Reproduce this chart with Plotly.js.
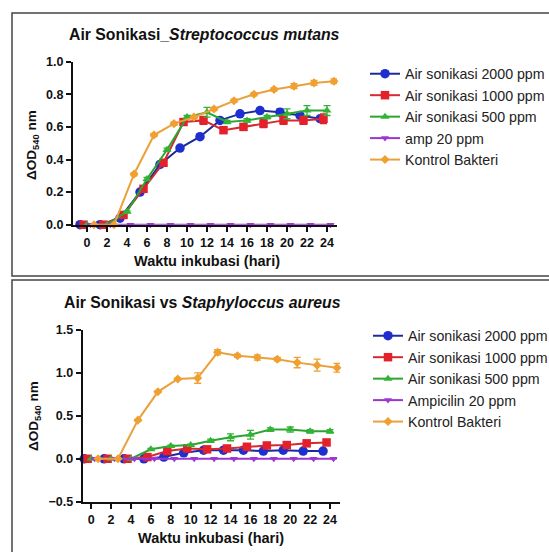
<!DOCTYPE html>
<html>
<head>
<meta charset="utf-8">
<script src="https://cdn.plot.ly/plotly-3.0.1.min.js"></script>
<style>
  html, body { margin: 0; padding: 0; background: #fff; }
  #chart { width: 549px; height: 552px; }
</style>
</head>
<body>
<div id="chart"></div>
<script>
// ---------- DATA ----------
const days = [0, 2, 4, 6, 8, 10, 12, 14, 16, 18, 20, 22, 24];

// Top panel: Streptococcus mutans
const smNames = ["Air sonikasi 2000 ppm", "Air sonikasi 1000 ppm", "Air sonikasi 500 ppm", "amp 20 ppm", "Kontrol Bakteri"];
const sm2000 = [0, 0, 0.04, 0.20, 0.37, 0.47, 0.54, 0.64, 0.68, 0.70, 0.69, 0.67, 0.65];
const sm1000 = [0, 0, 0.06, 0.22, 0.38, 0.63, 0.64, 0.58, 0.60, 0.62, 0.64, 0.64, 0.65];
const sm500  = [0, 0, 0.08, 0.28, 0.46, 0.66, 0.69, 0.63, 0.64, 0.66, 0.68, 0.70, 0.70];
const smAmp  = [0, 0, 0, 0, 0, 0, 0, 0, 0, 0, 0, 0, 0];
const smKon  = [0, 0, 0.31, 0.55, 0.62, 0.66, 0.71, 0.76, 0.80, 0.83, 0.85, 0.87, 0.88];
const sm2000Err = [0, 0, 0.005, 0.01, 0.01, 0.01, 0.01, 0.01, 0.01, 0.01, 0.02, 0.01, 0.01];
const sm1000Err = [0, 0, 0.005, 0.01, 0.01, 0.01, 0.025, 0.02, 0.02, 0.025, 0.025, 0.025, 0.03];
const sm500Err  = [0, 0, 0.005, 0.01, 0.01, 0.01, 0.03, 0.01, 0.01, 0.01, 0.03, 0.03, 0.03];
const smAmpErr  = [0, 0, 0, 0, 0, 0, 0, 0, 0, 0, 0, 0, 0];
const smKonErr  = [0, 0, 0.01, 0.01, 0.01, 0.01, 0.01, 0.01, 0.01, 0.01, 0.015, 0.015, 0.015];

// Bottom panel: Staphylococcus aureus
const saNames = ["Air sonikasi 2000 ppm", "Air sonikasi 1000 ppm", "Air sonikasi 500 ppm", "Ampicilin 20 ppm", "Kontrol Bakteri"];
const sa2000 = [0, 0, 0, 0, 0.02, 0.07, 0.10, 0.10, 0.10, 0.09, 0.10, 0.09, 0.09];
const sa1000 = [0, 0, 0, 0.02, 0.09, 0.12, 0.11, 0.12, 0.14, 0.155, 0.16, 0.18, 0.19];
const sa500  = [0, 0, 0, 0.11, 0.15, 0.16, 0.21, 0.25, 0.28, 0.34, 0.34, 0.32, 0.32];
const saAmp  = [0, 0, 0, 0, 0, 0, 0, 0, 0, 0, 0, 0, 0];
const saKon  = [0, 0, 0.45, 0.78, 0.93, 0.94, 1.24, 1.20, 1.18, 1.16, 1.12, 1.09, 1.06];
const sa2000Err = [0, 0, 0, 0, 0.01, 0.01, 0.01, 0.01, 0.01, 0.01, 0.01, 0.01, 0.01];
const sa1000Err = [0, 0, 0, 0.01, 0.01, 0.01, 0.01, 0.01, 0.01, 0.01, 0.01, 0.01, 0.03];
const sa500Err  = [0, 0, 0, 0.01, 0.01, 0.01, 0.02, 0.04, 0.05, 0.02, 0.03, 0.02, 0.02];
const saAmpErr  = [0, 0, 0, 0, 0, 0, 0, 0, 0, 0, 0, 0, 0];
const saKonErr  = [0, 0, 0.01, 0.01, 0.01, 0.06, 0.03, 0.02, 0.03, 0.02, 0.06, 0.07, 0.05];

const xTicks = [0, 2, 4, 6, 8, 10, 12, 14, 16, 18, 20, 22, 24];

// ---------- STYLE ----------
const styles = [
  { color: "#1f2fcf", line: "#1d2a9a", symbol: "circle", size: 9.5, nudge: -0.7 },
  { color: "#e4212b", line: "#d42a30", symbol: "square", size: 8.5, nudge: -0.35 },
  { color: "#33b336", line: "#2aa530", symbol: "triangle-up", size: 8, nudge: 0 },
  { color: "#a035d6", line: "#9a35d0", symbol: "triangle-down", size: 7, nudge: 0.35 },
  { color: "#f0a030", line: "#eba03a", symbol: "diamond", size: 7, nudge: 0.7 }
];

function makeTraces(names, ys, errs, xa, ya, legendId) {
  return names.map((n, i) => ({
    type: "scatter",
    mode: "lines+markers",
    name: n,
    x: days.map(d => d + styles[i].nudge),
    y: ys[i],
    xaxis: xa, yaxis: ya,
    legend: legendId,
    cliponaxis: false,
    line: { color: styles[i].line, width: 2 },
    marker: { color: styles[i].color, symbol: styles[i].symbol, size: styles[i].size, line: { width: 0 } },
    error_y: { type: "data", array: errs[i], visible: true, color: styles[i].color, thickness: 1.3, width: 3.5 }
  }));
}

const traces = [].concat(
  makeTraces(smNames, [sm2000, sm1000, sm500, smAmp, smKon], [sm2000Err, sm1000Err, sm500Err, smAmpErr, smKonErr], "x", "y", "legend"),
  makeTraces(saNames, [sa2000, sa1000, sa500, saAmp, saKon], [sa2000Err, sa1000Err, sa500Err, saAmpErr, saKonErr], "x2", "y2", "legend2")
);

const W = 549, H = 552;
const px = v => v / W;
const py = v => 1 - v / H;
const FONT = "Liberation Sans, Arial, sans-serif";

const axisCommon = {
  showline: true, linecolor: "#111", linewidth: 2,
  ticks: "outside", ticklen: 5, tickwidth: 2, tickcolor: "#111",
  showgrid: false, zeroline: false,
  tickfont: { family: FONT, size: 12.5, color: "#111", weight: "bold" },
  fixedrange: true
};

const layout = {
  width: W, height: H,
  margin: { l: 0, r: 0, t: 0, b: 0, autoexpand: false },
  paper_bgcolor: "#fff", plot_bgcolor: "rgba(0,0,0,0)",
  font: { family: FONT, color: "#111" },
  showlegend: true,
  xaxis: Object.assign({}, axisCommon, {
    domain: [px(73), px(337)], range: [-1.4, 25], tickvals: xTicks, anchor: "y"
  }),
  yaxis: Object.assign({}, axisCommon, {
    domain: [py(224.7), py(61.7)], range: [0, 1.0], dtick: 0.2, tick0: 0, tickformat: ".1f", anchor: "x"
  }),
  xaxis2: Object.assign({}, axisCommon, {
    domain: [px(82.7), px(340)], range: [-0.85, 25], tickvals: xTicks, anchor: "y2"
  }),
  yaxis2: Object.assign({}, axisCommon, {
    domain: [py(501.7), py(330)], range: [-0.5, 1.5], dtick: 0.5, tick0: -0.5, tickformat: ".1f", anchor: "x2"
  }),
  legend: {
    x: px(365), y: py(58), xanchor: "left", yanchor: "top",
    font: { family: FONT, size: 14.2, color: "#222" },
    bgcolor: "rgba(0,0,0,0)", borderwidth: 0, itemclick: false, itemdoubleclick: false
  },
  legend2: {
    x: px(368), y: py(320), xanchor: "left", yanchor: "top",
    font: { family: FONT, size: 14.2, color: "#222" },
    bgcolor: "rgba(0,0,0,0)", borderwidth: 0, itemclick: false, itemdoubleclick: false
  },
  annotations: [
    { text: "<b>Air Sonikasi_<i>Streptococcus mutans</i></b>", xref: "paper", yref: "paper",
      x: px(67), y: py(34), xanchor: "left", yanchor: "middle", showarrow: false,
      font: { family: FONT, size: 15.8, color: "#111" } },
    { text: "<b>Air Sonikasi vs <i>Staphyloccus aureus</i></b>", xref: "paper", yref: "paper",
      x: px(62), y: py(302), xanchor: "left", yanchor: "middle", showarrow: false,
      font: { family: FONT, size: 15.8, color: "#111" } },
    { text: "<b>ΔOD<sub>540</sub> nm</b>", xref: "paper", yref: "paper",
      x: px(33), y: py(145), xanchor: "center", yanchor: "middle", textangle: -90, showarrow: false,
      font: { family: FONT, size: 13.5, color: "#111" } },
    { text: "<b>Waktu inkubasi (hari)</b>", xref: "paper", yref: "paper",
      x: px(207), y: py(261), xanchor: "center", yanchor: "middle", showarrow: false,
      font: { family: FONT, size: 14.5, color: "#111" } },
    { text: "<b>ΔOD<sub>540</sub> nm</b>", xref: "paper", yref: "paper",
      x: px(34), y: py(416), xanchor: "center", yanchor: "middle", textangle: -90, showarrow: false,
      font: { family: FONT, size: 13.5, color: "#111" } },
    { text: "<b>Waktu inkubasi (hari)</b>", xref: "paper", yref: "paper",
      x: px(211), y: py(538), xanchor: "center", yanchor: "middle", showarrow: false,
      font: { family: FONT, size: 14.5, color: "#111" } }
  ],
  shapes: [
    { type: "rect", xref: "paper", yref: "paper", x0: px(12), x1: px(560), y0: py(276), y1: py(13),
      line: { color: "#444", width: 1.5 } },
    { type: "rect", xref: "paper", yref: "paper", x0: px(12), x1: px(560), y0: py(565), y1: py(280),
      line: { color: "#444", width: 1.5 } }
  ]
};

Plotly.newPlot("chart", traces, layout, { displayModeBar: false, staticPlot: true });
</script>
</body>
</html>
